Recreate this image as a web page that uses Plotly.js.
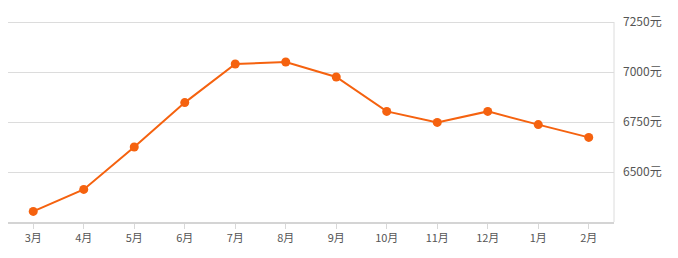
<!DOCTYPE html>
<html>
<head>
<meta charset="utf-8">
<script src="https://cdn.plot.ly/plotly-3.0.1.min.js"></script>
<style>html,body{margin:0;padding:0;background:#fff;}#chart{width:678px;height:258px;}</style>
</head>
<body>
<div id="chart"></div>
<script>
const months = ['3月','4月','5月','6月','7月','8月','9月','10月','11月','12月','1月','2月'];
const prices = [6303, 6413, 6625, 6847, 7040, 7050, 6975, 6803, 6748, 6803, 6737, 6673];
const yTicks = [6500, 6750, 7000, 7250];
const yTickLabels = ['6500元', '6750元', '7000元', '7250元'];

const trace = {
  x: months,
  y: prices,
  type: 'scatter',
  mode: 'lines+markers',
  line: {color: '#f5620f', width: 2},
  marker: {color: '#f5620f', size: 9},
  hoverinfo: 'skip'
};

const layout = {
  width: 678, height: 258,
  margin: {l: 8, r: 64, t: 12, b: 36},
  paper_bgcolor: '#fff', plot_bgcolor: '#fff',
  showlegend: false,
  font: {family: '"Noto Sans CJK SC", "Open Sans", sans-serif', size: 11, color: '#555'},
  xaxis: {
    type: 'category',
    range: [-0.5, months.length - 0.5],
    showgrid: false,
    zeroline: false,
    showline: true, linecolor: '#d4d4d4', linewidth: 2,
    ticks: 'outside', ticklen: 5, tickcolor: '#d8d8d8', tickwidth: 1,
    tickfont: {size: 11, color: '#555'},
    fixedrange: true
  },
  yaxis: {
    side: 'right',
    range: [6250, 7300],
    tickvals: yTicks, ticktext: yTickLabels,
    showgrid: true, gridcolor: '#dcdcdc', gridwidth: 1,
    zeroline: false,
    showline: false,
    ticks: '', ticklabelstandoff: 8,
    tickfont: {size: 12, color: '#555'},
    fixedrange: true
  },
  shapes: [{
    type: 'line', xref: 'paper', yref: 'y',
    x0: 1, x1: 1, y0: 6250, y1: 7250,
    line: {color: '#dcdcdc', width: 1}
  }]
};

Plotly.newPlot('chart', [trace], layout, {displayModeBar: false, staticPlot: true});
</script>
</body>
</html>
